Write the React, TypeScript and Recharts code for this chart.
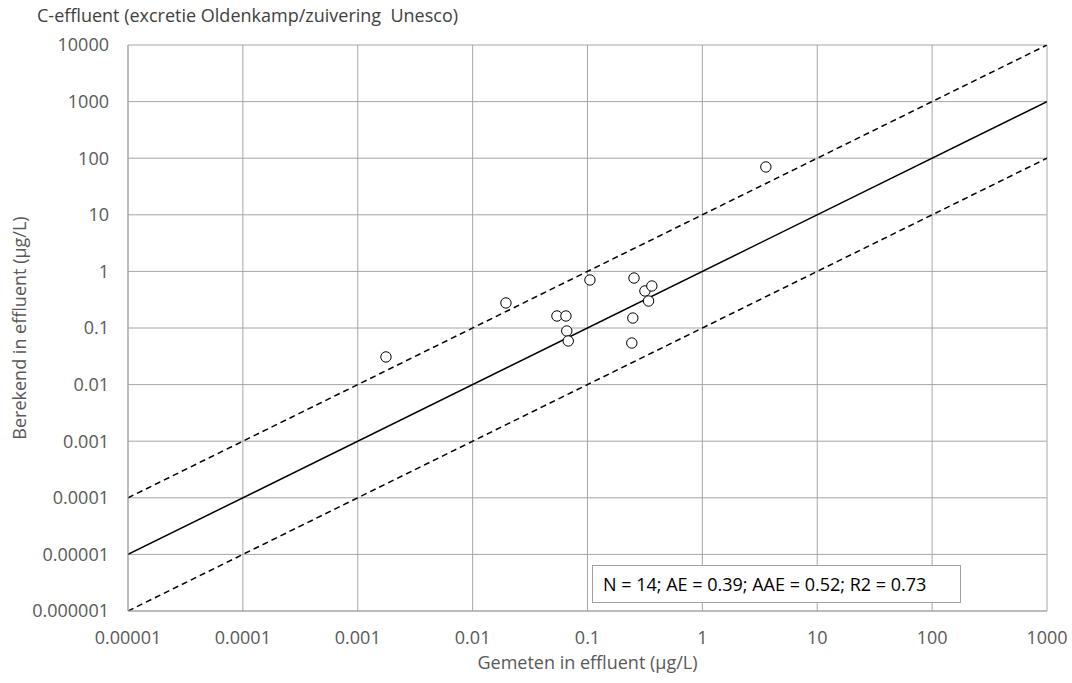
import { ScatterChart, Scatter, XAxis, YAxis, CartesianGrid, ReferenceLine } from "recharts"

const measured = [0.00176, 0.0195, 0.0542, 0.0649, 0.066, 0.068, 0.105, 0.254, 0.248, 0.243, 0.316, 0.363, 0.34, 3.57]
const calculated = [0.0308, 0.277, 0.163, 0.163, 0.0885, 0.059, 0.705, 0.764, 0.15, 0.0543, 0.451, 0.552, 0.3, 70]

const xTicks = [0.00001, 0.0001, 0.001, 0.01, 0.1, 1, 10, 100, 1000]
const xTickLabels = ["0.00001", "0.0001", "0.001", "0.01", "0.1", "1", "10", "100", "1000"]
const yTicks = [0.000001, 0.00001, 0.0001, 0.001, 0.01, 0.1, 1, 10, 100, 1000, 10000]
const yTickLabels = ["0.000001", "0.00001", "0.0001", "0.001", "0.01", "0.1", "1", "10", "100", "1000", "10000"]

// lines y = factor * x over the x range
const lineFactors = [1, 10, 0.1]

const stats = "N = 14; AE = 0.39; AAE = 0.52; R2 = 0.73"

const points = measured.map((x, i) => ({ x, y: calculated[i] }))

const FS = 18

const OpenCircle = (props: any) => {
  const { cx, cy } = props
  if (cx == null || cy == null) return null
  return <circle cx={cx} cy={cy} r={5.2} fill="#fff" stroke="#000" strokeWidth={1} />
}

export default function App() {
  const xMin = xTicks[0]
  const xMax = xTicks[xTicks.length - 1]
  return (
    <div style={{ position: "absolute", left: 0, top: 0, width: 1072, height: 683, fontFamily: "'Open Sans', sans-serif", background: "#fff" }}>
      <div style={{ position: "absolute", left: 37, top: 3, fontSize: FS, color: "#404040", whiteSpace: "nowrap" }}>
        C-effluent (excretie Oldenkamp/zuivering&nbsp; Unesco)
      </div>
      <ScatterChart width={1072} height={683} margin={{ top: 45, right: 25, bottom: 0, left: 0 }}>
        <CartesianGrid stroke="#a6a6a6" strokeWidth={1} />
        <XAxis
          type="number"
          dataKey="x"
          scale="log"
          domain={[xMin, xMax]}
          ticks={xTicks}
          allowDataOverflow
          interval={0}
          tickFormatter={(v: number, i: number) => xTickLabels[i] ?? String(v)}
          tick={{ fill: "#595959", fontSize: FS }}
          tickLine={false}
          tickSize={0}
          tickMargin={20}
          axisLine={{ stroke: "#a6a6a6" }}
          height={72}
          label={{ value: "Gemeten in effluent (µg/L)", position: "insideBottom", offset: 14, fill: "#595959", fontSize: FS }}
        />
        <YAxis
          type="number"
          dataKey="y"
          scale="log"
          domain={[yTicks[0], yTicks[yTicks.length - 1]]}
          ticks={yTicks}
          allowDataOverflow
          interval={0}
          tickFormatter={(v: number, i: number) => yTickLabels[i] ?? String(v)}
          tick={{ fill: "#595959", fontSize: FS }}
          tickLine={false}
          tickSize={0}
          tickMargin={19}
          axisLine={{ stroke: "#a6a6a6" }}
          width={128}
          label={{ value: "Berekend in effluent (µg/L)", angle: -90, position: "insideLeft", offset: 20, fill: "#595959", fontSize: FS, style: { textAnchor: "middle" } }}
        />
        {lineFactors.map((f) => (
          <ReferenceLine
            key={f}
            segment={[{ x: xMin, y: xMin * f }, { x: xMax, y: xMax * f }]}
            stroke="#000"
            strokeWidth={1.5}
            strokeDasharray={f === 1 ? undefined : "6 4"}
            ifOverflow="hidden"
          />
        ))}
        <Scatter data={points} shape={<OpenCircle />} isAnimationActive={false} />
      </ScatterChart>
      <div
        style={{
          position: "absolute",
          left: 592,
          top: 565,
          width: 367,
          height: 36,
          border: "1px solid #a0a0a0",
          background: "#fff",
          fontSize: FS,
          color: "#000",
          lineHeight: "36px",
          textIndent: 10,
          whiteSpace: "nowrap",
        }}
      >
        {stats}
      </div>
    </div>
  )
}
